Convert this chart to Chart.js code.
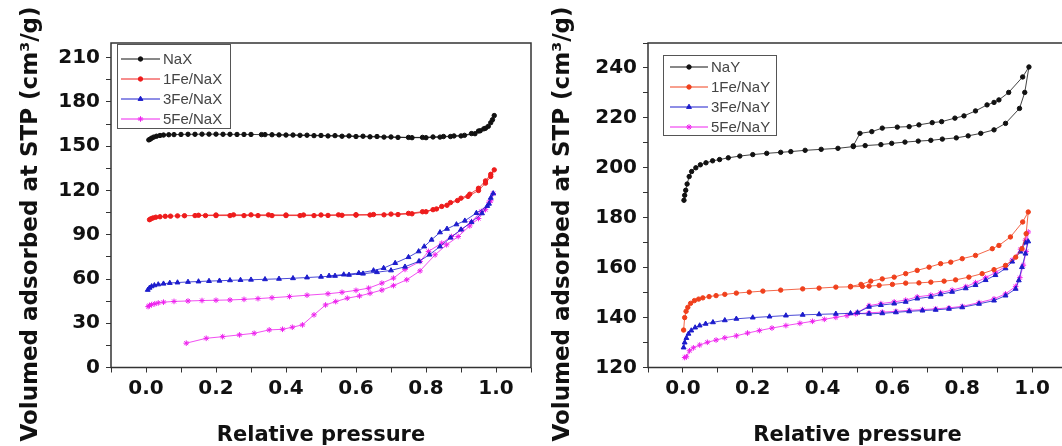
<!DOCTYPE html>
<html>
<head>
<meta charset="utf-8">
<script src="https://cdn.jsdelivr.net/npm/chart.js@4.4.0/dist/chart.umd.min.js"></script>
<style>
html, body { margin: 0; padding: 0; background: #fff; overflow: hidden; width: 1062px; height: 446px; }
#left { position: absolute; left: 0; top: 0; }
#right { position: absolute; left: 536px; top: 0; }
</style>
</head>
<body>
<canvas id="left" width="536" height="446"></canvas>
<canvas id="right" width="536" height="446"></canvas>
<script>
// NaX panel: relative pressure / volume (adsorption then desorption branch)
var naxP = [0.008,0.012,0.016,0.022,0.03,0.04,0.05,0.065,0.08,0.1,0.12,0.14,0.16,0.18,0.2,0.22,0.24,0.26,0.28,0.3,0.33,0.36,0.4,0.44,0.48,0.52,0.56,0.6,0.64,0.68,0.72,0.76,0.8,0.84,0.87,0.9,0.93,0.95,0.965,0.978,0.99,
            0.995,0.985,0.97,0.955,0.94,0.91,0.88,0.85,0.82,0.79,0.75,0.7,0.66,0.62,0.58,0.54,0.5,0.46,0.42,0.38,0.34];
var naxV = [154.3,154.8,155.5,156.2,156.8,157.3,157.6,157.8,157.9,158,158.1,158.1,158.2,158.2,158.2,158.1,158.1,158,158,158,157.9,157.8,157.6,157.4,157.2,157,156.8,156.6,156.4,156.2,156,155.8,155.8,156.2,156.6,157,158.6,160.3,161.8,163.5,168,
            170.8,166,162.2,160.5,158.5,157.4,157,156.6,156.3,156,156,156.3,156.6,156.8,157,157.2,157.3,157.5,157.6,157.7,157.9];

var fe1xP = [0.01,0.014,0.02,0.028,0.04,0.055,0.07,0.09,0.11,0.14,0.17,0.2,0.24,0.28,0.32,0.36,0.4,0.44,0.48,0.52,0.56,0.6,0.64,0.68,0.72,0.76,0.8,0.83,0.86,0.89,0.92,0.95,0.97,0.985,0.995,
             0.985,0.97,0.95,0.925,0.9,0.87,0.845,0.82,0.79,0.75,0.7,0.65,0.6,0.55,0.5,0.45,0.4,0.35,0.3,0.25,0.2,0.15];
var fe1xV = [100.2,100.8,101.4,101.9,102.2,102.5,102.6,102.8,102.9,103,103,103,103,103,103,103,103,103,103,103.1,103.2,103.3,103.4,103.5,103.7,104.2,105.6,107.5,110,113.2,116,120,125,129.5,134,
             131,126.5,121.5,117.5,114.8,111.8,109.2,107,105.6,104.5,104,103.7,103.6,103.5,103.4,103.4,103.4,103.5,103.5,103.5,103.4,103.2];

var fe3xP = [0.005,0.01,0.016,0.024,0.035,0.05,0.068,0.09,0.12,0.15,0.18,0.21,0.24,0.27,0.3,0.34,0.38,0.42,0.46,0.5,0.54,0.58,0.62,0.66,0.7,0.74,0.78,0.81,0.84,0.87,0.9,0.93,0.96,0.98,0.992,
             0.985,0.975,0.944,0.911,0.887,0.86,0.84,0.816,0.795,0.779,0.75,0.712,0.679,0.65,0.608,0.565,0.523];
var fe3xV = [52.6,54,55,55.7,56.3,56.8,57.3,57.6,58,58.3,58.6,58.8,59.1,59.3,59.5,59.8,60.1,60.5,61,61.5,62.1,62.8,63.6,64.6,65.8,68.3,72,76.5,82,88,93.5,98.5,104.5,111,118,
             115,109.5,104.7,99.5,97,94,91.6,86.6,82,78.7,74.8,70.8,67.4,65.8,64,63,62.1];

var fe5xP = [0.006,0.01,0.016,0.025,0.035,0.05,0.08,0.12,0.16,0.2,0.24,0.28,0.32,0.36,0.41,0.46,0.52,0.56,0.6,0.636,0.674,0.707,0.74,0.783,0.807,0.845,0.873,0.902,0.93,0.958,0.98,0.992,
             0.985,0.97,0.95,0.925,0.892,0.859,0.826,0.783,0.745,0.707,0.674,0.64,0.61,0.575,0.542,0.513,0.48,0.447,0.418,0.39,0.352,0.309,0.267,0.219,0.172,0.115];
var fe5xV = [41.3,42,42.6,43.2,43.8,44.3,44.8,45.1,45.4,45.6,45.8,46.2,46.7,47.3,48.1,49,50,51,52.3,53.8,57.2,60.6,66.5,71.9,78.7,84.3,88.8,93.4,99,105.8,112,118,
             113,107,101,96,88.8,83.2,76.4,65.5,59.5,55.5,52.5,50.3,48.5,47,44.7,42.4,35.7,28.9,27.3,25.9,25.5,23.2,22.1,20.9,19.8,16.5];

// NaY panel
var nayP = [0.003,0.005,0.008,0.012,0.018,0.025,0.037,0.05,0.066,0.085,0.105,0.13,0.163,0.2,0.24,0.28,0.309,0.35,0.396,0.444,0.488,0.522,0.567,0.598,0.636,0.674,0.71,0.743,0.783,0.817,0.853,0.891,0.924,0.964,0.979,0.991,
            0.973,0.933,0.905,0.891,0.871,0.838,0.805,0.779,0.741,0.714,0.676,0.648,0.614,0.571,0.541,0.507,0.488];
var nayV = [187,189,191,193.5,196.5,198.5,200,201.2,202,202.8,203.3,204,204.7,205.3,205.8,206.2,206.5,207,207.4,207.8,208.5,208.9,209.3,209.8,210.3,210.7,211,211.5,212,212.8,213.8,215.2,217.8,223.8,230.2,240.4,
            236.4,230.2,227.2,226.2,225.2,222.8,220.8,219.9,218.5,218.1,217.2,216.5,216.3,215.9,214.5,213.8,208.8];

var fe1yP = [0.002,0.005,0.009,0.014,0.022,0.033,0.045,0.057,0.075,0.095,0.12,0.153,0.19,0.229,0.28,0.343,0.39,0.438,0.48,0.514,0.533,0.562,0.6,0.638,0.676,0.71,0.748,0.781,0.819,0.857,0.891,0.924,0.953,0.971,0.983,0.989,
             0.973,0.938,0.905,0.886,0.838,0.8,0.767,0.738,0.705,0.671,0.638,0.605,0.571,0.538,0.51,0.48];
var fe1yV = [135,140,142.5,144.1,145.7,146.8,147.4,147.9,148.4,148.8,149.3,149.8,150.2,150.6,151,151.5,151.8,152.2,152.3,152.5,152.6,152.9,153.3,153.8,153.9,154.2,154.6,155.1,156.2,157.6,159.2,160.9,164.2,167.6,173.6,182.3,
             178.3,172.3,168.9,167.6,164.9,163.6,162.2,161.6,160.2,158.9,157.6,156.2,155.5,154.6,153.3,152.5];

var fe3yP = [0.002,0.005,0.01,0.016,0.024,0.035,0.048,0.065,0.086,0.12,0.153,0.2,0.248,0.295,0.343,0.39,0.438,0.48,0.533,0.571,0.61,0.648,0.686,0.724,0.762,0.8,0.848,0.891,0.924,0.953,0.962,0.971,0.981,0.989,
             0.981,0.967,0.943,0.924,0.895,0.867,0.838,0.81,0.771,0.738,0.71,0.671,0.638,0.605,0.567,0.533,0.5];
var fe3yV = [128,130,131.8,133.5,134.8,136,136.8,137.5,138.1,138.9,139.5,140,140.4,140.8,141.1,141.3,141.5,141.7,141.5,141.7,142.1,142.5,142.8,143.1,143.5,144.1,145.5,146.8,148.8,151.5,154.9,160.2,165.6,170.5,
             170,166.4,162.4,159.7,157,155,153,151.7,150.3,149.3,148.3,147.6,146.3,145.6,145,144.3,142];

var fe5yP = [0.005,0.01,0.019,0.03,0.048,0.07,0.095,0.12,0.153,0.185,0.219,0.255,0.295,0.335,0.371,0.405,0.438,0.47,0.495,0.533,0.571,0.61,0.648,0.686,0.724,0.762,0.8,0.848,0.891,0.924,0.953,0.965,0.975,0.983,0.989,
             0.981,0.967,0.943,0.924,0.895,0.867,0.838,0.81,0.771,0.738,0.71,0.671,0.638,0.605,0.567,0.533,0.5];
var fe5yV = [124,124.3,126.7,127.9,129,130.1,131,131.9,132.7,133.8,134.8,135.8,136.8,137.7,138.5,139.3,140.1,140.8,141.5,141.9,142.2,142.5,142.9,143.2,143.5,143.9,144.5,146,147.5,149.5,152.5,156,161,166.5,174.3,
             171,167.4,163,160.5,158,156,154,152.4,151,150,149,148.3,147,146.3,145.6,144.8,142];

var labelsX = ["NaX", "1Fe/NaX", "3Fe/NaX", "5Fe/NaX"];
var labelsY = ["NaY", "1Fe/NaY", "3Fe/NaY", "5Fe/NaY"];
var colors = ["#111111", "#ee1c1c", "#1c1ccc", "#ee22ee"];
var colorsY = ["#111111", "#f0401c", "#1c1ccc", "#ee22ee"];
var markers = ["circle", "circle", "triangle", "star"];

function toPoints(p, v) {
    var pts = [];
    for (var i = 0; i < p.length; i++) pts.push({ x: p[i], y: v[i] });
    return pts;
}

var frame = {
    id: "frame",
    beforeDraw: function (chart) {
        var ctx = chart.ctx;
        ctx.save();
        ctx.fillStyle = "#fff";
        ctx.fillRect(0, 0, chart.width, chart.height);
        ctx.restore();
    },
    afterDraw: function (chart, args, opts) {
        var ctx = chart.ctx, a = chart.chartArea;
        ctx.save();
        ctx.strokeStyle = "#333";
        ctx.lineWidth = 1.5;
        ctx.strokeRect(a.left, a.top, a.right - a.left, a.bottom - a.top);

        // y axis title
        ctx.save();
        ctx.translate(opts.titleX, opts.titleY);
        ctx.rotate(-Math.PI / 2);
        ctx.font = 'bold 23px "DejaVu Sans"';
        ctx.fillStyle = "#111";
        ctx.textAlign = "center";
        ctx.textBaseline = "middle";
        ctx.fillText("Volumed adsorbed at STP (cm\u00b3/g)", 0, 0);
        ctx.restore();

        // boxed legend
        var L = opts.box;
        ctx.fillStyle = "#fff";
        ctx.fillRect(L.x, L.y, L.w, L.h);
        ctx.strokeStyle = "#555";
        ctx.lineWidth = 1;
        ctx.strokeRect(L.x + 0.5, L.y + 0.5, L.w, L.h);
        ctx.font = '15px "Liberation Sans"';
        ctx.textAlign = "left";
        ctx.textBaseline = "middle";
        chart.data.datasets.forEach(function (ds, i) {
            var y = L.row0 + i * L.rowH;
            ctx.strokeStyle = ds.borderColor;
            ctx.lineWidth = 1;
            ctx.beginPath();
            ctx.moveTo(L.line0, y);
            ctx.lineTo(L.line1, y);
            ctx.stroke();
            ctx.fillStyle = ds.pointBackgroundColor;
            ctx.strokeStyle = ds.pointBorderColor;
            Chart.helpers.drawPoint(ctx, { pointStyle: ds.pointStyle, radius: ds.pointRadius, borderWidth: 1, rotation: 0 }, (L.line0 + L.line1) / 2, y);
            ctx.fillStyle = "#444";
            ctx.fillText(ds.label, L.text, y + 1);
        });
        ctx.restore();
    }
};

function makeChart(id, labels, cols, series, yMin, yMax, yStep, yLabelStep, yWidth, padRight, titleX, box) {
    var datasets = [];
    for (var i = 0; i < labels.length; i++) {
        datasets.push({
            label: labels[i],
            data: toPoints(series[i][0], series[i][1]),
            showLine: true,
            borderColor: cols[i],
            borderWidth: 0.8,
            pointStyle: markers[i],
            pointRadius: markers[i] === "circle" ? 2.2 : 2.8,
            pointBackgroundColor: cols[i],
            pointBorderColor: cols[i],
            pointBorderWidth: 1,
            tension: 0
        });
    }
    var tickFont = { family: "DejaVu Sans", weight: "bold", size: 20 };
    return new Chart(document.getElementById(id).getContext("2d"), {
        type: "scatter",
        data: { datasets: datasets },
        plugins: [frame],
        options: {
            responsive: false,
            animation: false,
            layout: { padding: { left: 0, right: padRight, top: 43, bottom: 0 } },
            plugins: {
                legend: { display: false },
                tooltip: { enabled: false },
                frame: { titleX: titleX, titleY: 224, box: box }
            },
            scales: {
                x: {
                    type: "linear",
                    min: -0.1,
                    max: 1.1,
                    afterFit: function (s) { s.height = 78.5; },
                    ticks: {
                        stepSize: 0.1,
                        maxTicksLimit: 30,
                        autoSkip: false,
                        maxRotation: 0,
                        padding: 4,
                        color: "#111",
                        font: tickFont,
                        callback: function (v) {
                            var k = Math.round(v * 10);
                            return (k >= 0 && k <= 10 && k % 2 === 0) ? (k / 10).toFixed(1) : "";
                        }
                    },
                    grid: { drawOnChartArea: false, tickLength: 5, color: "#333", tickWidth: 1 },
                    border: { display: false },
                    title: {
                        display: true,
                        text: "Relative pressure",
                        color: "#111",
                        font: { family: "DejaVu Sans", weight: "bold", size: 21, lineHeight: 1 },
                        padding: { top: 0, bottom: 0 }
                    }
                },
                y: {
                    type: "linear",
                    min: yMin,
                    max: yMax,
                    afterFit: function (s) { s.width = yWidth; },
                    ticks: {
                        stepSize: yStep,
                        includeBounds: false,
                        maxTicksLimit: 40,
                        autoSkip: false,
                        padding: 6,
                        color: "#111",
                        font: tickFont,
                        callback: function (v) {
                            return (Math.round(v - yMin) % yLabelStep === 0) ? String(v) : "";
                        }
                    },
                    grid: {
                        drawOnChartArea: false,
                        tickLength: 5,
                        tickWidth: 1,
                        color: "#333",
                        tickColor: function (c) {
                            return (c.tick && Math.round(c.tick.value - yMin) % yStep === 0) ? "#333" : "rgba(0,0,0,0)";
                        }
                    },
                    border: { display: false }
                }
            }
        }
    });
}

makeChart("left", labelsX, colors,
    [[naxP, naxV], [fe1xP, fe1xV], [fe3xP, fe3xV], [fe5xP, fe5xV]],
    0, 220, 15, 30, 111, 3, 31,
    { x: 117, y: 44, w: 113, h: 84, row0: 59, rowH: 20, line0: 121, line1: 160, text: 163 });

makeChart("right", labelsY, colorsY,
    [[nayP, nayV], [fe1yP, fe1yV], [fe3yP, fe3yV], [fe5yP, fe5yV]],
    120, 250, 10, 20, 112, 4, 27,
    { x: 127, y: 55, w: 113, h: 80, row0: 67, rowH: 20, line0: 134, line1: 172, text: 175 });
</script>
</body>
</html>
